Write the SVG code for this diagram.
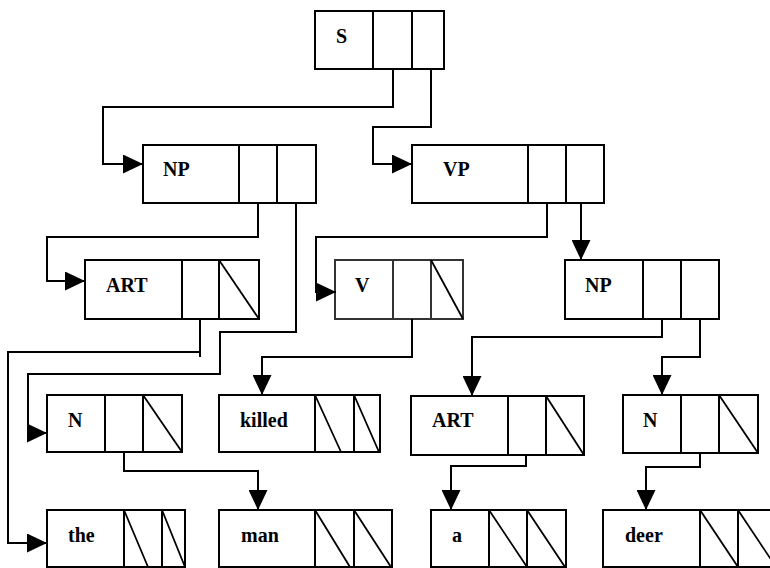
<svg xmlns="http://www.w3.org/2000/svg" width="770" height="568" viewBox="0 0 770 568">
<style>
.box{fill:#fff;stroke:#000;stroke-width:2}
.ln{stroke:#000;stroke-width:2;fill:none}
.dg{stroke:#000;stroke-width:1.8;fill:none}
.lbl{font-family:"Liberation Serif","Times New Roman",serif;font-weight:bold;font-size:20px;fill:#000}
.con{fill:none;stroke:#000;stroke-width:2}
</style>
<defs>
<marker id="ah" markerUnits="userSpaceOnUse" markerWidth="20" markerHeight="19" refX="20" refY="9.5" orient="auto" viewBox="0 0 20 19"><path d="M0,0L20,9.5L0,19z" fill="#000"/></marker>
</defs>
<rect width="770" height="568" fill="#fff"/>
<g id="S"><rect class="box" x="315" y="11" width="129" height="58"/><path class="ln" d="M373,11V69M412,11V69"/><text class="lbl" x="336" y="43">S</text></g>
<g id="NP1"><rect class="box" x="143" y="145" width="173" height="58"/><path class="ln" d="M239,145V203M277,145V203"/><text class="lbl" x="163" y="176">NP</text></g>
<g id="VP"><rect class="box" x="412" y="145" width="192" height="58"/><path class="ln" d="M528,145V203M566,145V203"/><text class="lbl" x="443" y="176">VP</text></g>
<g id="ART1"><rect class="box" x="85" y="260" width="174" height="59"/><path class="ln" d="M182,260V319M219,260V319"/><path class="dg" d="M219,260L259,319"/><text class="lbl" x="106" y="292">ART</text></g>
<g id="V"><rect class="box" x="335" y="260" width="128" height="59" style="stroke:#333"/><path class="ln" d="M393,260V319M431,260V319" style="stroke:#333"/><path class="dg" d="M431,260L463,319"/><text class="lbl" x="355" y="292">V</text></g>
<g id="NP2"><rect class="box" x="565" y="260" width="154" height="59"/><path class="ln" d="M643,260V319M681,260V319"/><text class="lbl" x="585" y="292">NP</text></g>
<g id="N1"><rect class="box" x="47" y="395" width="135" height="57"/><path class="ln" d="M105,395V452M143,395V452"/><path class="dg" d="M143,395L182,452"/><text class="lbl" x="68" y="427">N</text></g>
<g id="killed"><rect class="box" x="219" y="395" width="161" height="57"/><path class="ln" d="M315,395V452M354,395V452"/><path class="dg" d="M315,395L341,452M354,395L379,452"/><text class="lbl" x="240" y="427">killed</text></g>
<g id="ART2"><rect class="box" x="411" y="396" width="173" height="59"/><path class="ln" d="M508,396V455M546,396V455"/><path class="dg" d="M546,396L584,455"/><text class="lbl" x="432" y="427">ART</text></g>
<g id="N2"><rect class="box" x="623" y="395" width="135" height="58"/><path class="ln" d="M681,395V453M719,395V453"/><path class="dg" d="M719,395L758,453"/><text class="lbl" x="643" y="427">N</text></g>
<g id="the"><rect class="box" x="47" y="510" width="138" height="57"/><path class="ln" d="M124,510V567M162,510V567"/><path class="dg" d="M124,510L148,567M162,510L185,567"/><text class="lbl" x="68" y="542">the</text></g>
<g id="man"><rect class="box" x="219" y="510" width="173" height="57"/><path class="ln" d="M315,510V567M354,510V567"/><path class="dg" d="M315,510L350,567M354,510L391,567"/><text class="lbl" x="241" y="542">man</text></g>
<g id="a"><rect class="box" x="431" y="510" width="135" height="57"/><path class="ln" d="M489,510V567M527,510V567"/><path class="dg" d="M489,510L527,567M527,510L565,567"/><text class="lbl" x="452" y="542">a</text></g>
<g id="deer"><rect class="box" x="603" y="510" width="174" height="57"/><path class="ln" d="M700,510V567M738,510V567"/><path class="dg" d="M700,510L738,567M738,510L776,567"/><text class="lbl" x="625" y="542">deer</text></g>
<g id="connectors">
<path class="con" marker-end="url(#ah)" d="M393,69V107H103V164H143"/>
<path class="con" marker-end="url(#ah)" d="M431,69V127H373V164H412"/>
<path class="con" marker-end="url(#ah)" d="M258,203V237H47V281H85"/>
<path class="con" marker-end="url(#ah)" d="M296,203V332H220V374H28V433H47"/>
<path class="con" d="M200,319V357"/>
<path class="con" marker-end="url(#ah)" d="M200,352H8V543H47"/>
<path class="con" marker-end="url(#ah)" d="M547,203V237H316V292H336"/>
<path class="con" marker-end="url(#ah)" d="M581,203V260"/>
<path class="con" marker-end="url(#ah)" d="M412,319V357H262V395"/>
<path class="con" marker-end="url(#ah)" d="M662,319V337H472V396"/>
<path class="con" marker-end="url(#ah)" d="M700,319V357H662V395"/>
<path class="con" marker-end="url(#ah)" d="M124,452V471H258V510"/>
<path class="con" marker-end="url(#ah)" d="M526,455V466H451V510"/>
<path class="con" marker-end="url(#ah)" d="M700,453V467H646V510"/>
</g>
</svg>
